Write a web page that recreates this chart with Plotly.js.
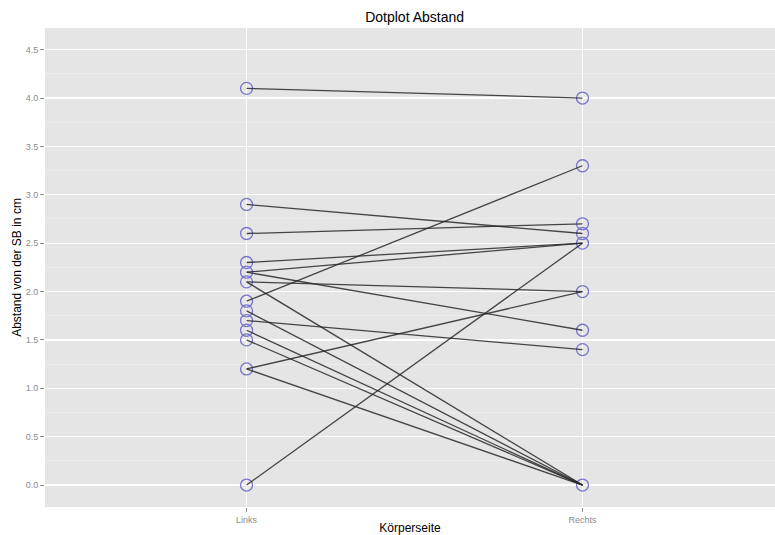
<!DOCTYPE html>
<html>
<head>
<meta charset="utf-8">
<script src="https://cdn.plot.ly/plotly-3.0.1.min.js"></script>
<style>html,body{margin:0;padding:0;background:#fff;}#chart{width:775px;height:535px;}</style>
</head>
<body>
<div id="chart"></div>
<script>
// Categories
const categories = ["Links", "Rechts"];
// Paired measurements (one entry per subject)
const links  = [4.1, 2.9, 2.6, 2.3, 2.2, 2.2, 2.1, 2.1, 1.9, 1.8, 1.7, 1.6, 1.5, 1.2, 1.2, 0.0];
const rechts = [4.0, 2.6, 2.7, 2.5, 2.5, 1.6, 2.0, 0.0, 3.3, 0.0, 1.4, 0.0, 0.0, 2.0, 0.0, 2.5];
const yTicks = [0, 0.5, 1, 1.5, 2, 2.5, 3, 3.5, 4, 4.5];

const lx = [], ly = [];
for (let i = 0; i < links.length; i++) {
  lx.push(1, 2, null);
  ly.push(links[i], rechts[i], null);
}
// unique points per side (overlapping circles drawn once)
const px = [], py = [];
[...new Set(links)].forEach(v => { px.push(1); py.push(v); });
[...new Set(rechts)].forEach(v => { px.push(2); py.push(v); });

const traces = [
  {x: px, y: py, mode: 'markers', type: 'scatter',
   marker: {symbol: 'circle-open', size: 12, color: '#7575cc', line: {width: 1.3, color: '#7575cc'}},
   showlegend: false},
  {x: lx, y: ly, mode: 'lines', type: 'scatter', hoverinfo: 'skip',
   line: {color: 'rgba(40,40,40,0.85)', width: 1.3}, showlegend: false}
];

const layout = {
  width: 775, height: 535,
  margin: {l: 45, r: 0, t: 28, b: 28, pad: 0},
  paper_bgcolor: '#ffffff',
  plot_bgcolor: '#e5e5e5',
  font: {family: 'Liberation Sans, Arial, sans-serif', color: '#000'},
  title: {text: 'Dotplot Abstand', x: 0.535, xanchor: 'center', y: 0.968, yanchor: 'middle',
          font: {size: 14, color: '#000'}},
  xaxis: {
    range: [0.4, 2.573], tickvals: [1, 2], ticktext: categories,
    showgrid: true, gridcolor: '#ffffff', gridwidth: 1.2,
    zeroline: false, showline: false,
    ticks: 'outside', ticklen: 4, tickcolor: '#8c8c8c', tickwidth: 1,
    tickfont: {size: 9, color: '#8c8c8c'},
    automargin: false,
    title: {text: 'Körperseite', font: {size: 12, color: '#000'}, standoff: 5}
  },
  yaxis: {
    range: [-0.227, 4.724], tickvals: yTicks,
    ticktext: yTicks.map(v => v.toFixed(1)),
    showgrid: true, gridcolor: '#ffffff', gridwidth: 1.2,
    minor: {dtick: 0.25, showgrid: true, gridcolor: '#f0f0f0', gridwidth: 0.6, ticklen: 0},
    zeroline: false, showline: false,
    ticks: 'outside', ticklen: 4, tickcolor: '#8c8c8c', tickwidth: 1,
    tickfont: {size: 9, color: '#8c8c8c'},
    automargin: false,
    title: {text: 'Abstand von der SB in cm', font: {size: 12, color: '#000'}, standoff: 1}
  }
};

Plotly.newPlot('chart', traces, layout, {displayModeBar: false, staticPlot: true});
</script>
</body>
</html>
